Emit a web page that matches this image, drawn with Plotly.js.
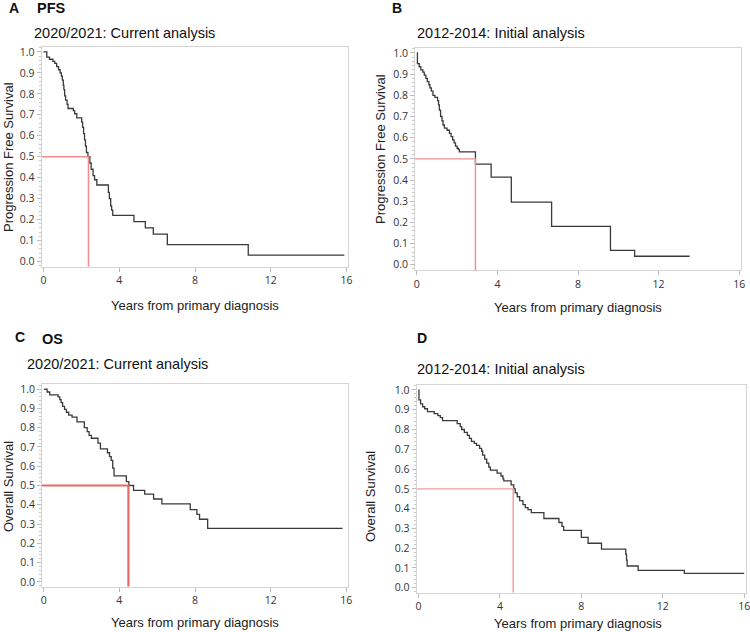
<!DOCTYPE html>
<html>
<head>
<meta charset="utf-8">
<script src="https://cdn.plot.ly/plotly-3.0.1.min.js"></script>
<style>html,body{margin:0;padding:0;background:#fff;}#chart{width:750px;height:632px;}</style>
</head>
<body>
<div id="chart"></div>
<script>
// ---- Data ----
const pfsCurrentT = [0, 0.18, 0.32, 0.5, 0.6, 0.7, 0.8, 0.88, 0.95, 1.0, 1.05, 1.08, 1.12, 1.17, 1.25, 1.3, 1.58, 1.65, 1.76, 2.02, 2.07, 2.12, 2.17, 2.22, 2.27, 2.35, 2.45, 2.52, 2.62, 2.7, 2.82, 3.43, 3.48, 3.55, 3.6, 3.66, 4.78, 5.38, 5.8, 6.54, 10.81, 15.88];
const pfsCurrentS = [1.0, 0.975, 0.965, 0.955, 0.945, 0.93, 0.915, 0.9, 0.885, 0.865, 0.84, 0.82, 0.79, 0.77, 0.75, 0.73, 0.72, 0.705, 0.685, 0.665, 0.64, 0.61, 0.58, 0.55, 0.52, 0.5, 0.47, 0.44, 0.41, 0.39, 0.365, 0.33, 0.3, 0.265, 0.245, 0.22, 0.19, 0.16, 0.13, 0.08, 0.03, 0.03];

const pfsInitialT = [0, 0.03, 0.12, 0.2, 0.3, 0.37, 0.45, 0.52, 0.6, 0.65, 0.72, 0.8, 0.9, 1.03, 1.08, 1.12, 1.18, 1.25, 1.3, 1.37, 1.5, 1.62, 1.7, 1.78, 1.85, 1.92, 2.0, 2.06, 2.11, 2.91, 3.69, 4.69, 6.69, 9.61, 10.81, 13.54];
const pfsInitialS = [1.0, 0.95, 0.935, 0.92, 0.91, 0.895, 0.88, 0.865, 0.85, 0.835, 0.82, 0.8, 0.79, 0.775, 0.755, 0.73, 0.7, 0.68, 0.66, 0.645, 0.635, 0.62, 0.605, 0.59, 0.575, 0.56, 0.55, 0.545, 0.533, 0.475, 0.414, 0.296, 0.181, 0.068, 0.04, 0.04];

const osCurrentT = [0, 0.18, 0.32, 0.76, 0.85, 0.92, 1.0, 1.1, 1.2, 1.32, 1.5, 1.76, 2.15, 2.3, 2.4, 2.52, 2.87, 3.0, 3.37, 3.48, 3.57, 3.65, 3.72, 4.37, 4.5, 4.75, 5.34, 5.81, 6.25, 7.75, 8.1, 8.24, 8.67, 15.8];
const osCurrentS = [1.0, 0.985, 0.97, 0.96, 0.945, 0.93, 0.91, 0.895, 0.88, 0.865, 0.855, 0.83, 0.8, 0.78, 0.76, 0.745, 0.72, 0.69, 0.67, 0.65, 0.63, 0.59, 0.55, 0.52, 0.5, 0.475, 0.455, 0.43, 0.405, 0.375, 0.35, 0.325, 0.278, 0.278];

const osInitialT = [0, 0.02, 0.1, 0.2, 0.3, 0.44, 0.77, 0.95, 1.07, 1.18, 1.9, 2.05, 2.12, 2.25, 2.4, 2.5, 2.6, 2.74, 2.85, 3.0, 3.1, 3.15, 3.25, 3.35, 3.45, 3.53, 3.86, 4.05, 4.15, 4.19, 4.55, 4.68, 4.75, 4.85, 4.97, 5.13, 5.25, 5.38, 5.54, 6.16, 6.9, 7.05, 7.13, 8.0, 8.33, 8.99, 10.18, 10.22, 10.25, 10.79, 13.06, 16.0];
const osInitialS = [1.0, 0.95, 0.93, 0.915, 0.905, 0.89, 0.88, 0.87, 0.86, 0.845, 0.83, 0.815, 0.8, 0.785, 0.77, 0.755, 0.74, 0.73, 0.72, 0.705, 0.69, 0.67, 0.65, 0.63, 0.61, 0.595, 0.58, 0.565, 0.55, 0.54, 0.52, 0.5, 0.48, 0.46, 0.44, 0.42, 0.405, 0.395, 0.38, 0.35, 0.33, 0.31, 0.29, 0.255, 0.225, 0.195, 0.17, 0.14, 0.11, 0.088, 0.073, 0.073];

const medians = [2.38, 2.91, 4.48, 4.65];   // A, B, C, D
const medianLevel = 0.5;
const panelLetters = ["A", "B", "C", "D"];
const endpointNames = ["PFS", "", "OS", ""];
const panelTitles = ["2020/2021: Current analysis", "2012-2014: Initial analysis", "2020/2021: Current analysis", "2012-2014: Initial analysis"];
const yTitles = ["Progression Free Survival", "Progression Free Survival", "Overall Survival", "Overall Survival"];
const xTitle = "Years from primary diagnosis";
const xTicks = [0, 4, 8, 12, 16];
const yTicks = [0, 0.1, 0.2, 0.3, 0.4, 0.5, 0.6, 0.7, 0.8, 0.9, 1.0];

// ---- Layout / styling ----
const W = 750, H = 632;
const series = [[pfsCurrentT, pfsCurrentS], [pfsInitialT, pfsInitialS], [osCurrentT, osCurrentS], [osInitialT, osInitialS]];
// plot-area boxes in pixels: [left, right, top, bottom]
const boxes = [[41.7, 348.3, 46.7, 266.7], [415, 741, 47.7, 270], [42, 348, 384.3, 586.7], [416.7, 746, 385, 592.7]];
const xRange = [-0.09, 16.09];
const yRange = [-0.025, 1.025];
const redColors = ["#ef8e8e", "#ef8e8e", "#e46a6a", "#f29a9a"];
const redWidths = [1.6, 1.4, 2.2, 1.4];

const traces = [];
const layout = {
  width: W, height: H,
  margin: {l: 0, r: 0, t: 0, b: 0},
  paper_bgcolor: "#fff", plot_bgcolor: "#fff",
  showlegend: false,
  annotations: []
};
const tickFont = {family: "Open Sans, DejaVu Sans, sans-serif", size: 10.5, color: "#333"};
const textFont = {family: "Liberation Sans, Arial, sans-serif", color: "#111"};

// letter / title positions [x, y] in pixels
const letterPos = [[7, 8.5], [390, 8.5], [13, 337], [415, 338]];
const namePos = [[35, 8.5], null, [40, 339], null];
const titlePos = [[32, 32.5], [415, 33], [25, 364], [415, 369]];
const yTitlePos = [[8, 157], [380, 149], [8, 487], [370, 497]];
const xTitlePos = [[195, 305], [578, 308], [195, 622], [578, 623]];

for (let i = 0; i < 4; i++) {
  const n = i + 1;
  const xa = "x" + (n === 1 ? "" : n), ya = "y" + (n === 1 ? "" : n);
  const b = boxes[i];
  layout["xaxis" + (n === 1 ? "" : n)] = {
    domain: [b[0] / W, b[1] / W], range: xRange, anchor: ya,
    tickvals: xTicks, ticktext: xTicks.map(String),
    showgrid: false, zeroline: false,
    showline: true, linecolor: "#d4d4d4", linewidth: 1, mirror: true,
    ticks: "outside", ticklen: 4, tickcolor: "#bbb", tickfont: tickFont,
    ticklabeloverflow: "allow"
  };
  layout["yaxis" + (n === 1 ? "" : n)] = {
    domain: [1 - b[3] / H, 1 - b[2] / H], range: yRange, anchor: xa,
    tickvals: yTicks, ticktext: yTicks.map(v => v.toFixed(1)),
    showgrid: false, zeroline: false,
    showline: true, linecolor: "#d4d4d4", linewidth: 1, mirror: true,
    ticks: "outside", ticklen: 4, tickcolor: "#bbb", tickfont: tickFont,
    ticklabeloverflow: "allow",
    minor: {dtick: 0.02, ticks: "outside", ticklen: 2, tickcolor: "#c8c8c8", showgrid: false}
  };
  // survival curve
  traces.push({
    x: series[i][0], y: series[i][1], xaxis: xa, yaxis: ya,
    type: "scatter", mode: "lines", line: {shape: "hv", color: "#3a3a3a", width: 1.3},
    hoverinfo: "skip"
  });
  // median reference line
  traces.push({
    x: [xRange[0], medians[i], medians[i]], y: [medianLevel, medianLevel, yRange[0]],
    xaxis: xa, yaxis: ya, type: "scatter", mode: "lines",
    line: {color: redColors[i], width: redWidths[i]}, hoverinfo: "skip"
  });
  // texts
  layout.annotations.push({text: "<b>" + panelLetters[i] + "</b>", xref: "paper", yref: "paper",
    x: letterPos[i][0] / W, y: 1 - letterPos[i][1] / H, xanchor: "left", yanchor: "middle",
    showarrow: false, font: Object.assign({}, textFont, {size: 14})});
  if (endpointNames[i]) {
    layout.annotations.push({text: "<b>" + endpointNames[i] + "</b>", xref: "paper", yref: "paper",
      x: namePos[i][0] / W, y: 1 - namePos[i][1] / H, xanchor: "left", yanchor: "middle",
      showarrow: false, font: Object.assign({}, textFont, {size: 14.5})});
  }
  layout.annotations.push({text: panelTitles[i], xref: "paper", yref: "paper",
    x: titlePos[i][0] / W, y: 1 - titlePos[i][1] / H, xanchor: "left", yanchor: "middle",
    showarrow: false, font: Object.assign({}, textFont, {size: 14.5})});
  layout.annotations.push({text: yTitles[i], xref: "paper", yref: "paper", textangle: -90,
    x: yTitlePos[i][0] / W, y: 1 - yTitlePos[i][1] / H, xanchor: "center", yanchor: "middle",
    showarrow: false, font: Object.assign({}, textFont, {size: 13, color: "#222"})});
  layout.annotations.push({text: xTitle, xref: "paper", yref: "paper",
    x: xTitlePos[i][0] / W, y: 1 - xTitlePos[i][1] / H, xanchor: "center", yanchor: "middle",
    showarrow: false, font: Object.assign({}, textFont, {size: 13, color: "#222"})});
}

Plotly.newPlot("chart", traces, layout, {staticPlot: true, displayModeBar: false});
</script>
</body>
</html>
